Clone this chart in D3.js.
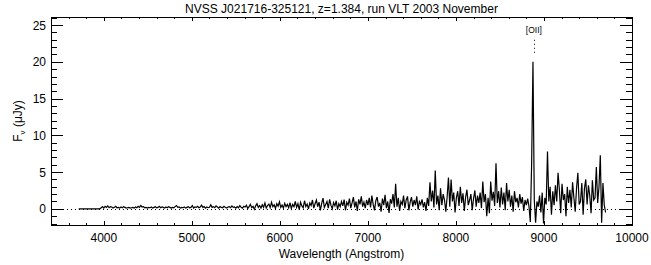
<!DOCTYPE html>
<html>
<head>
<meta charset="utf-8">
<script src="https://cdn.jsdelivr.net/npm/d3@7"></script>
<style>
  body { margin: 0; background: #fff; }
  text { font-family: "Liberation Sans", Arial, sans-serif; fill: #000; }
</style>
</head>
<body>
<div id="chart"></div>
<script>
const width = 651;
const height = 265;
const margin = { top: 17, right: 19, bottom: 40, left: 51 };

const title = "NVSS J021716-325121, z=1.384, run VLT 2003 November";
const redshift = 1.384;
const emissionLines = [{ label: "[OII]", rest: 3727 }];

const xTicks = [4000, 5000, 6000, 7000, 8000, 9000, 10000];
const yTicks = [0, 5, 10, 15, 20, 25];

// spectrum sampled on a 15 A grid starting at 3715 A, 20 samples per row
const waveStart = 3715;
const waveStep = 15;
const flux = [
  0, 0, 0, 0, 0, 0, 0, 0, 0, 0, 0, 0, 0, 0, 0, 0, 0, 0.15, 0.3, 0.1,
  0.35, 0.2, 0.4, 0.15, 0.3, 0.25, 0.1, 0.2, 0.35, 0.15, 0.2, 0.1, 0.25, 0.15, 0.3, 0.2, 0.1, 0.15, 0.2, 0.1,
  0.15, 0.2, 0.1, 0.25, 0.15, 0.35, 0.2, 0.45, 0.25, 0.3, 0.15, 0.2, 0.1, 0.2, 0.15, 0.25, 0.1, 0.2, 0.3, 0.15,
  0.2, 0.35, 0.15, 0.25, 0.2, 0.1, 0.25, 0.15, 0.3, 0.2, 0.1, 0.2, 0.15, 0.3, 0.45, 0.2, 0.25, 0.1, 0.2, 0.15,
  0.25, 0.1, 0.2, 0.3, 0.15, 0.2, 0.45, 0.1, 0.25, 0.2, 0.35, 0.15, 0.25, 0.5, 0.2, 0.3, 0.1, 0.25, 0.15, 0.2,
  0.55, 0.2, 0.3, 0.15, 0.4, 0.25, 0.1, 0.3, 0.2, 0.15, 0.35, 0.2, 0.1, 0.25, 0.3, 0.15, 0.4, 0.2, 0.25, 0.1,
  0.3, 0.15, 0.45, 0.2, 0.1, 0.35, 0.25, 0.5, 0.05, 0.3, 0.6, 0.15, 0.35, -0.05, 0.4, 0.7, 0.2, 0.45, 0.1, 0.55,
  0.2, 0.8, 0.1, 0.45, 0.65, 0.15, 0.9, 0.3, 0.55, 0.05, 0.7, 0.35, 0.95, 0.2, 0.5, 0.1, 0.75, 0.3, 0.6, 0.15,
  0.85, 0.05, 0.6, 0.3, 1.0, 0.2, 0.7, -0.1, 0.9, 0.4, 0.15, 1.1, 0.3, 0.65, 0.0, 0.8, 0.45, 1.2, 0.1, 0.7,
  1.2, 0.3, 0.9, -0.2, 0.75, 1.45, 0.2, 0.6, 1.0, 0.1, 1.3, 0.5, 0.0, 0.85, 0.4, 1.1, -0.1, 0.7, 0.3, 1.0,
  0.4, 1.25, -0.2, 0.9, 0.5, 1.4, 0.1, 0.8, 1.6, 0.2, 1.0, -0.3, 1.3, 0.6, 1.7, 0.3, 0.9, 0.1, 1.2, 0.5,
  1.5, 0.2, 1.8, 0.6, -0.2, 1.1, 1.6, 0.3, 0.8, -0.4, 1.4, 0.5, 1.9, 0.1, 1.0, -0.55, 1.3, 0.7, 2.0, 0.2,
  3.4, 0.3, 1.5, -0.3, 1.0, 0.6, 1.8, 0.1, 1.2, 1.7, -0.2, 0.9, 1.6, 0.3, 1.2, 0.5, 1.7, -0.1, 1.0, 0.6,
  1.3, 0.2, 0.9, -0.3, 1.5, 0.4, 3.6, 1.0, 2.5, 0.2, 5.2, 0.6, 1.8, -0.2, 2.8, 0.5, 2.0, 1.2, -0.4, 1.6,
  4.25, 0.3, 4.0, 1.0, 2.2, -0.5, 1.5, 2.4, 0.4, 3.0, 0.8, 2.1, -0.3, 1.6, 2.6, 0.5, 1.2, 2.0, -0.2, 1.4,
  2.5, 0.3, 1.8, 0.8, 2.2, 0.1, 3.7, 0.9, 2.0, -1.0, 1.5, -0.6, 3.7, 1.1, 2.3, 0.4, 6.2, 0.8, 2.4, 0.2,
  2.9, 0.6, 2.2, -0.2, 3.5, 1.0, 2.6, 0.3, 1.8, -0.4, 2.4, 0.9, 1.5, 0.2, 2.0, 0.7, 1.6, -0.3, 1.2, 0.5,
  1.4, 0.3, -1.8, 6.2, 20.0, 1.2, -1.9, 1.0, 0.3, 1.8, -0.5, 2.2, -2.0, 1.5, 0.6, 7.8, 1.0, 3.0, -0.8, 2.4,
  0.5, 3.2, 1.0, 4.9, 2.6, -0.6, 3.4, 1.2, 2.0, -1.0, 3.0, 0.8, 2.6, 0.2, 3.6, 1.5, -0.4, 2.8, 4.9, 0.6,
  1.0, 3.5, -0.8, 2.8, 4.0, 0.6, 3.2, 1.8, -0.6, 3.9, 1.2, 1.5, 5.7, 0.8, 3.0, 7.3, -1.9, 3.5, 0.5, -0.5
];

const spectrum = flux.map((f, i) => ({ wave: waveStart + i * waveStep, flux: f }));

const svg = d3
  .select("#chart")
  .append("svg")
  .attr("width", width)
  .attr("height", height);

const plotWidth = width - margin.left - margin.right;
const plotHeight = height - margin.top - margin.bottom;

const plot = svg.append("g").attr("transform", `translate(${margin.left},${margin.top})`);

const x = d3.scaleLinear().domain([3400, 10000]).range([0, plotWidth]);
const y = d3.scaleLinear().domain([-2.2, 26.1]).range([plotHeight, 0]);

// IDL style box: ticks point inward on all four sides
const xMinor = d3.range(3400, 10001, 200).filter((d) => d % 1000 !== 0);
const yMinor = d3.range(-2, 27, 1).filter((d) => d % 5 !== 0);
const xLen = 4, yLen = 12;

const ticks = plot.append("g").attr("stroke", "#000").attr("stroke-width", 1);

[[xTicks, xLen], [xMinor, xLen / 2]].forEach(([vals, len]) => {
  ticks.selectAll(null).data(vals).join("line")
    .attr("x1", (d) => Math.round(x(d)) + 0.5).attr("x2", (d) => Math.round(x(d)) + 0.5)
    .attr("y1", plotHeight).attr("y2", plotHeight - len);
  ticks.selectAll(null).data(vals).join("line")
    .attr("x1", (d) => Math.round(x(d)) + 0.5).attr("x2", (d) => Math.round(x(d)) + 0.5)
    .attr("y1", 0).attr("y2", len);
});

[[yTicks, yLen], [yMinor, yLen / 2]].forEach(([vals, len]) => {
  ticks.selectAll(null).data(vals).join("line")
    .attr("y1", (d) => Math.round(y(d)) + 0.5).attr("y2", (d) => Math.round(y(d)) + 0.5)
    .attr("x1", 0).attr("x2", len);
  ticks.selectAll(null).data(vals).join("line")
    .attr("y1", (d) => Math.round(y(d)) + 0.5).attr("y2", (d) => Math.round(y(d)) + 0.5)
    .attr("x1", plotWidth).attr("x2", plotWidth - len);
});

plot
  .append("rect")
  .attr("x", 0.5)
  .attr("y", 0.5)
  .attr("width", plotWidth)
  .attr("height", plotHeight)
  .attr("fill", "none")
  .attr("stroke", "#000");

plot
  .selectAll("text.xtick")
  .data(xTicks)
  .join("text")
  .attr("class", "xtick")
  .attr("x", (d) => x(d))
  .attr("y", plotHeight + 17)
  .attr("text-anchor", "middle")
  .attr("font-size", 12)
  .text((d) => d);

plot
  .selectAll("text.ytick")
  .data(yTicks)
  .join("text")
  .attr("class", "ytick")
  .attr("x", -5)
  .attr("y", (d) => y(d) + 4.5)
  .attr("text-anchor", "end")
  .attr("font-size", 12)
  .text((d) => d);

// zero level
plot
  .append("line")
  .attr("x1", 0)
  .attr("x2", plotWidth)
  .attr("y1", Math.round(y(0)) + 0.5)
  .attr("y2", Math.round(y(0)) + 0.5)
  .attr("stroke", "#000")
  .attr("stroke-dasharray", "1,3");

const line = d3.line().x((d) => x(d.wave)).y((d) => y(d.flux));

plot
  .append("path")
  .datum(spectrum)
  .attr("d", line)
  .attr("fill", "none")
  .attr("stroke", "#000")
  .attr("stroke-width", 1.2);

// emission line markers
emissionLines.forEach((l) => {
  const wx = x(l.rest * (1 + redshift));
  plot
    .append("line")
    .attr("x1", Math.round(wx) + 0.5)
    .attr("x2", Math.round(wx) + 0.5)
    .attr("y1", y(23.0))
    .attr("y2", y(21.2))
    .attr("stroke", "#000")
    .attr("stroke-dasharray", "1,3");
  plot
    .append("text")
    .attr("x", wx)
    .attr("y", y(23.9))
    .attr("text-anchor", "middle")
    .attr("font-size", 8.5)
    .text(l.label);
});

svg
  .append("text")
  .attr("x", margin.left + plotWidth / 2)
  .attr("y", 13)
  .attr("text-anchor", "middle")
  .attr("font-size", 12)
  .text(title);

svg
  .append("text")
  .attr("x", margin.left + plotWidth / 2)
  .attr("y", 258)
  .attr("text-anchor", "middle")
  .attr("font-size", 12)
  .text("Wavelength (Angstrom)");

const yLabel = svg
  .append("text")
  .attr("transform", `translate(22,${margin.top + plotHeight / 2}) rotate(-90)`)
  .attr("text-anchor", "middle")
  .attr("font-size", 12);
yLabel.append("tspan").text("F");
yLabel.append("tspan").attr("font-size", 8).attr("dy", 3).text("\u03bd");
yLabel.append("tspan").attr("dy", -3).text(" (\u03bcJy)");
</script>
</body>
</html>
